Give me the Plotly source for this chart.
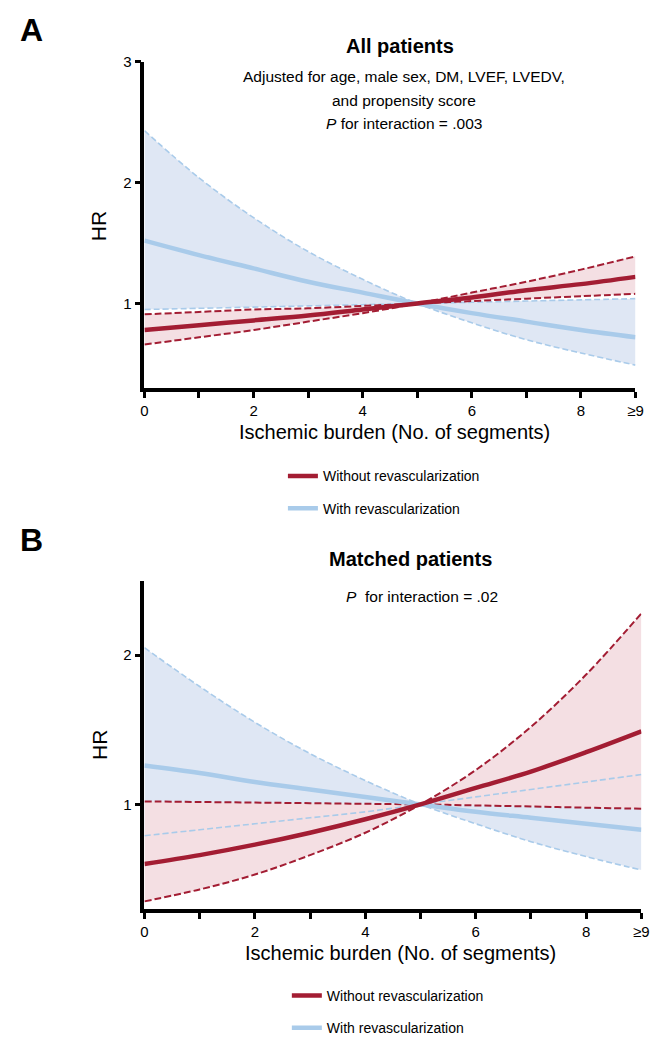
import plotly.graph_objects as go

# ---------------- data ----------------
segments = [0, 1, 2, 3, 4, 5, 6, 7, 8, 9]
x_tick_vals = [0, 1, 2, 3, 4, 5, 6, 7, 8, 9]
x_tick_text = ["0", "", "2", "", "4", "", "6", "", "8", "\u22659"]

series_names = ["Without revascularization", "With revascularization"]

# Panel A - All patients
A_without_hr = [0.78, 0.82, 0.86, 0.90, 0.95, 1.00, 1.05, 1.11, 1.16, 1.22]
A_without_ci1 = [0.91, 0.93, 0.95, 0.96, 0.98, 1.00, 1.02, 1.04, 1.06, 1.08]
A_without_ci2 = [0.66, 0.72, 0.78, 0.85, 0.92, 1.00, 1.09, 1.18, 1.28, 1.39]
A_with_hr = [1.52, 1.40, 1.29, 1.18, 1.09, 1.00, 0.92, 0.85, 0.78, 0.72]
A_with_ci1 = [2.43, 2.04, 1.71, 1.43, 1.20, 1.00, 0.84, 0.70, 0.59, 0.49]
A_with_ci2 = [0.95, 0.96, 0.97, 0.98, 0.99, 1.00, 1.01, 1.02, 1.03, 1.04]

# Panel B - Matched patients
B_without_hr = [0.60, 0.66, 0.73, 0.81, 0.90, 1.00, 1.11, 1.22, 1.35, 1.49]
B_without_ci1 = [1.020, 1.016, 1.012, 1.008, 1.004, 1.000, 0.993, 0.986, 0.978, 0.971]
B_without_ci2 = [0.35, 0.43, 0.53, 0.66, 0.81, 1.00, 1.23, 1.52, 1.87, 2.28]
B_with_hr = [1.26, 1.21, 1.15, 1.10, 1.05, 1.00, 0.95, 0.91, 0.87, 0.83]
B_with_ci1 = [2.05, 1.79, 1.55, 1.34, 1.16, 1.00, 0.87, 0.75, 0.65, 0.56]
B_with_ci2 = [0.79, 0.83, 0.87, 0.91, 0.95, 1.00, 1.05, 1.10, 1.15, 1.20]

A_y_ticks = [1, 2, 3]
B_y_ticks = [1, 2]

# ---------------- styling ----------------
W, H = 670, 1044
FONT = "Liberation Sans, Arial, Helvetica, sans-serif"
RED = "#a31d33"
BLUE = "#a9cbea"
RED_FILL = "#f4dfe3"
BLUE_FILL = "#dfe7f4"
RED_DASH = "7px,3px"
BLUE_DASH = "6px,3px"


def px_x(p):
    return p / W


def px_y(p):
    return 1 - p / H


fig = go.Figure()


def add_panel(xa, ya, legend, hr_wo, c1_wo, c2_wo, hr_w, c1_w, c2_w):
    common = dict(xaxis=xa, yaxis=ya, mode="lines", hoverinfo="skip")
    # fills: with revascularization
    fig.add_trace(go.Scatter(x=segments, y=c1_w, line=dict(width=0, shape="spline"),
                             showlegend=False, **common))
    fig.add_trace(go.Scatter(x=segments, y=c2_w, line=dict(width=0, shape="spline"),
                             fill="tonexty", fillcolor=BLUE_FILL, showlegend=False, **common))
    # fills: without revascularization (drawn on top)
    fig.add_trace(go.Scatter(x=segments, y=c1_wo, line=dict(width=0, shape="spline"),
                             showlegend=False, **common))
    fig.add_trace(go.Scatter(x=segments, y=c2_wo, line=dict(width=0, shape="spline"),
                             fill="tonexty", fillcolor=RED_FILL, showlegend=False, **common))
    # dashed confidence limits
    for ys in (c1_w, c2_w):
        fig.add_trace(go.Scatter(x=segments, y=ys,
                                 line=dict(color=BLUE, width=1.6, dash=BLUE_DASH, shape="spline"),
                                 showlegend=False, **common))
    for ys in (c1_wo, c2_wo):
        fig.add_trace(go.Scatter(x=segments, y=ys,
                                 line=dict(color=RED, width=2, dash=RED_DASH, shape="spline"),
                                 showlegend=False, **common))
    # main HR curves
    fig.add_trace(go.Scatter(x=segments, y=hr_w, name=series_names[1],
                             line=dict(color=BLUE, width=4.5, shape="spline"),
                             legend=legend, legendgroup=legend + "b", legendrank=2, **common))
    fig.add_trace(go.Scatter(x=segments, y=hr_wo, name=series_names[0],
                             line=dict(color=RED, width=4.5, shape="spline"),
                             legend=legend, legendgroup=legend + "a", legendrank=1, **common))


add_panel("x", "y", "legend", A_without_hr, A_without_ci1, A_without_ci2,
          A_with_hr, A_with_ci1, A_with_ci2)
add_panel("x2", "y2", "legend2", B_without_hr, B_without_ci1, B_without_ci2,
          B_with_hr, B_with_ci1, B_with_ci2)

axis_common = dict(showline=True, linewidth=3.5, linecolor="black", ticks="outside",
                   ticklen=6, tickwidth=3, tickcolor="black", showgrid=False,
                   zeroline=False, tickfont=dict(size=15, color="black", family=FONT))

fig.update_layout(
    width=W, height=H,
    margin=dict(l=0, r=0, t=0, b=0),
    paper_bgcolor="white", plot_bgcolor="white",
    font=dict(family=FONT, color="black"),
    xaxis=dict(domain=[px_x(143), px_x(643)], range=[0, 9], tickvals=x_tick_vals,
               ticktext=x_tick_text, anchor="y", **axis_common),
    yaxis=dict(domain=[px_y(388), px_y(54)], range=[0.3, 3], tickvals=A_y_ticks,
               anchor="x", **axis_common),
    xaxis2=dict(domain=[px_x(143), px_x(649)], range=[0, 9], tickvals=x_tick_vals,
                ticktext=x_tick_text, anchor="y2", **axis_common),
    yaxis2=dict(domain=[px_y(921), px_y(585)], range=[0.3, 2.5], tickvals=B_y_ticks,
                anchor="x2", **axis_common),
    legend=dict(x=px_x(284), y=px_y(462), xanchor="left", yanchor="top",
                font=dict(size=14, family=FONT), tracegroupgap=11, bgcolor="rgba(0,0,0,0)",
                traceorder="grouped"),
    legend2=dict(x=px_x(288), y=px_y(994), xanchor="left", yanchor="top",
                 font=dict(size=14, family=FONT), tracegroupgap=11, bgcolor="rgba(0,0,0,0)",
                 traceorder="grouped"),
)

ann = []


def text(x, y, s, size, angle=0):
    ann.append(dict(x=px_x(x), y=px_y(y), xref="paper", yref="paper", text=s,
                    showarrow=False, xanchor="center", yanchor="middle", textangle=angle,
                    font=dict(size=size, family=FONT, color="black")))


text(28, 22, "<b>A</b>", 32)
text(28, 543, "<b>B</b>", 32)
text(403, 38, "<b>All patients</b>", 20)
text(407, 69, "Adjusted for age, male sex, DM, LVEF, LVEDV,", 15.5)
text(407, 94, "and propensity score", 15.5)
text(407, 117, "<i>P</i> for interaction = .003", 15.5)
text(414, 563, "<b>Matched patients</b>", 20)
text(426, 601, "<i>P</i>  for interaction = .02", 15.5)
text(97, 222, "HR", 21, angle=-90)
text(97, 753, "HR", 21, angle=-90)
text(398, 433, "Ischemic burden (No. of segments)", 20)
text(404, 966, "Ischemic burden (No. of segments)", 20)
fig.update_layout(annotations=ann)

fig.write_html("out.html")
